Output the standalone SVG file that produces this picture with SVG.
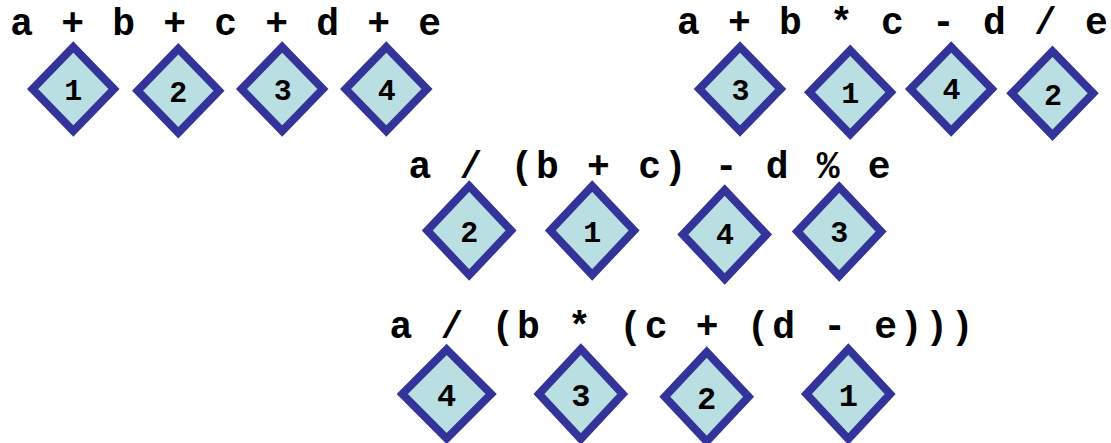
<svg xmlns="http://www.w3.org/2000/svg" width="1111" height="443" viewBox="0 0 1111 443">
<style>
.expr{font-family:"Liberation Mono","DejaVu Sans Mono",monospace;font-weight:bold;font-size:38px;letter-spacing:2.7px;fill:#000;white-space:pre}
.d{fill:#b9dfe3;stroke:#333399;stroke-width:8;stroke-linejoin:miter}
.n{font-family:"Liberation Mono","DejaVu Sans Mono",monospace;font-weight:bold;font-size:30px;fill:#000;text-anchor:middle}
.n3{font-size:32px}
</style>
<rect width="1111" height="443" fill="#fff"/>
<g id="expressions">
<text class="expr" x="10.3" y="35">a + b + c + d + e</text>
<text class="expr" x="676.9" y="34">a + b * c - d / e</text>
<text class="expr" x="408.6" y="178.3">a / (b + c) - d % e</text>
<text class="expr" x="389.6" y="338.3">a / (b * (c + (d - e)))</text>
</g>
<g id="row1-left">
<g id="r1l-1"><polygon class="d" points="73.3,47 114,89 73.3,131 32.6,89"/><text class="n" x="73.3" y="100">1</text></g>
<g id="r1l-2"><polygon class="d" points="178.3,48.7 219,90.7 178.3,132.7 137.6,90.7"/><text class="n" x="178.3" y="101.7">2</text></g>
<g id="r1l-3"><polygon class="d" points="282.2,47 322.9,89 282.2,131 241.5,89"/><text class="n" x="282.7" y="100">3</text></g>
<g id="r1l-4"><polygon class="d" points="386.3,47 427,89 386.3,131 345.6,89"/><text class="n" x="386.7" y="99.5">4</text></g>
</g>
<g id="row1-right">
<g id="r1r-3"><polygon class="d" points="740,47 780.7,89 740,131 699.3,89"/><text class="n" x="740.5" y="100">3</text></g>
<g id="r1r-1"><polygon class="d" points="850.2,50.2 890.9,92.2 850.2,134.2 809.5,92.2"/><text class="n" x="850.2" y="102.5">1</text></g>
<g id="r1r-4"><polygon class="d" points="951.2,47 991.9,89 951.2,131 910.5,89"/><text class="n" x="951.5" y="99">4</text></g>
<g id="r1r-2"><polygon class="d" points="1052.5,51.3 1093.2,93.3 1052.5,135.3 1011.8,93.3"/><text class="n" x="1053" y="105">2</text></g>
</g>
<g id="row2">
<g id="r2-2"><polygon class="d" points="469.2,186 511.1,230.5 469.2,275 427.3,230.5"/><text class="n" x="469.2" y="241.7">2</text></g>
<g id="r2-1"><polygon class="d" points="592.2,186 634.1,230.5 592.2,275 550.3,230.5"/><text class="n" x="592.3" y="242.3">1</text></g>
<g id="r2-4"><polygon class="d" points="724.7,190 766.6,234.5 724.7,279 682.8,234.5"/><text class="n" x="725" y="244.3">4</text></g>
<g id="r2-3"><polygon class="d" points="839.2,187 881.1,231.5 839.2,276 797.3,231.5"/><text class="n" x="839.3" y="241.7">3</text></g>
</g>
<g id="row3">
<g id="r3-4"><polygon class="d" points="446.7,349.5 491.1,394 446.7,438.5 402.3,394"/><text class="n n3" x="446.7" y="405.5">4</text></g>
<g id="r3-3"><polygon class="d" points="580.8,349 622.7,394 580.8,439 538.9,394"/><text class="n n3" x="580.8" y="405.5">3</text></g>
<g id="r3-2"><polygon class="d" points="706.7,352 748.6,396.7 706.7,441.4 664.8,396.7"/><text class="n n3" x="706.7" y="408.5">2</text></g>
<g id="r3-1"><polygon class="d" points="848.3,349 890.2,394 848.3,439 806.4,394"/><text class="n n3" x="848.3" y="405.5">1</text></g>
</g>
</svg>
